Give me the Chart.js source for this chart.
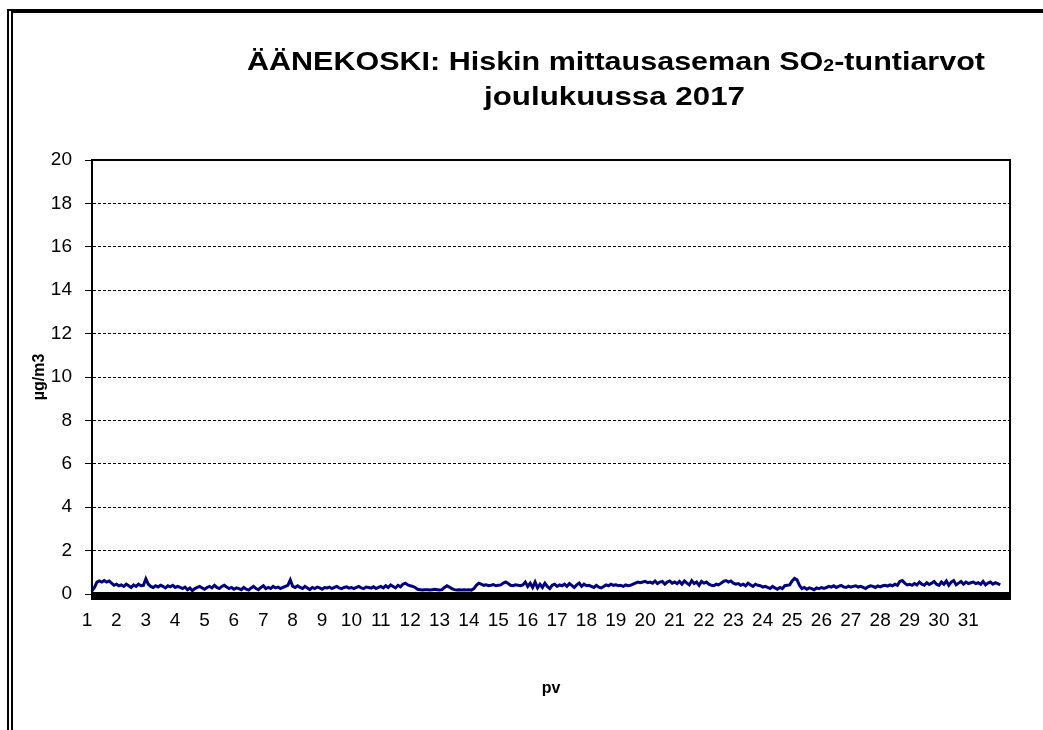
<!DOCTYPE html>
<html>
<head>
<meta charset="utf-8">
<script src="https://cdn.jsdelivr.net/npm/chart.js@4/dist/chart.umd.min.js"></script>
<style>
  html, body { margin: 0; padding: 0; background: #fff; width: 1043px; height: 730px; overflow: hidden; }
  #frame { position: absolute; left: 7px; top: 9px; width: 1100px; height: 800px;
           border-left: 6px double #000; border-top: 4px solid #000; box-sizing: border-box; }
  #wrap { position: absolute; left: 0; top: 0; width: 1043px; height: 730px; }
</style>
</head>
<body>
<div id="frame"></div>
<div id="wrap"><canvas id="c" width="1043" height="730"></canvas></div>
<script>
// Title texts
const titleLine1a = "ÄÄNEKOSKI: Hiskin mittausaseman SO";
const titleSub = "2";
const titleLine1b = "-tuntiarvot";
const titleLine2 = "joulukuussa 2017";
const yTitle = "µg/m3";
const xTitle = "pv";

// Day labels (1..31) and y ticks
const dayLabels = ["1","2","3","4","5","6","7","8","9","10","11","12","13","14","15","16","17","18","19","20","21","22","23","24","25","26","27","28","29","30","31"];
const yTicks = [0,2,4,6,8,10,12,14,16,18,20];

// SO2 values (µg/m3), read every 2 hours, 12 per day
const so2 = [
  0.15,0.30,0.55,0.60,0.55,0.62,0.55,0.60,0.50,0.40,0.45,0.38, // 1
  0.42,0.35,0.45,0.38,0.30,0.42,0.35,0.45,0.38,0.40,0.70,0.45, // 2
  0.35,0.30,0.38,0.32,0.40,0.35,0.28,0.38,0.33,0.40,0.30,0.35, // 3
  0.30,0.25,0.32,0.20,0.28,0.15,0.25,0.30,0.35,0.28,0.22,0.30, // 4
  0.35,0.28,0.40,0.30,0.25,0.35,0.40,0.32,0.25,0.30,0.22,0.28, // 5
  0.25,0.20,0.30,0.22,0.18,0.28,0.35,0.25,0.20,0.30,0.38,0.25, // 6
  0.30,0.25,0.35,0.28,0.32,0.25,0.30,0.35,0.40,0.65,0.35,0.30, // 7
  0.38,0.30,0.25,0.35,0.28,0.20,0.30,0.25,0.32,0.28,0.22,0.30, // 8
  0.28,0.32,0.25,0.30,0.35,0.28,0.25,0.30,0.33,0.27,0.30,0.25, // 9
  0.30,0.35,0.28,0.25,0.32,0.30,0.27,0.33,0.25,0.30,0.35,0.28, // 10
  0.38,0.30,0.42,0.35,0.28,0.40,0.33,0.45,0.50,0.42,0.38,0.35, // 11
  0.30,0.22,0.20,0.18,0.20,0.20,0.18,0.20,0.22,0.20,0.18,0.20, // 12
  0.30,0.38,0.32,0.25,0.20,0.18,0.20,0.18,0.20,0.18,0.20,0.18, // 13
  0.25,0.40,0.50,0.45,0.40,0.42,0.38,0.40,0.43,0.38,0.40,0.42, // 14
  0.50,0.55,0.48,0.40,0.38,0.42,0.40,0.38,0.42,0.55,0.35,0.50, // 15
  0.30,0.55,0.28,0.45,0.30,0.50,0.35,0.25,0.40,0.45,0.35,0.42, // 16
  0.38,0.45,0.35,0.48,0.40,0.30,0.42,0.50,0.35,0.45,0.38,0.40, // 17
  0.35,0.30,0.40,0.32,0.28,0.35,0.42,0.38,0.45,0.40,0.42,0.38, // 18
  0.40,0.35,0.42,0.38,0.40,0.45,0.50,0.55,0.52,0.55,0.58,0.52, // 19
  0.55,0.50,0.60,0.48,0.55,0.58,0.45,0.55,0.60,0.50,0.55,0.48, // 20
  0.58,0.45,0.60,0.50,0.42,0.62,0.48,0.55,0.40,0.58,0.50,0.55, // 21
  0.45,0.40,0.38,0.45,0.42,0.50,0.58,0.62,0.55,0.60,0.50,0.45, // 22
  0.48,0.40,0.45,0.38,0.50,0.42,0.35,0.45,0.40,0.38,0.32,0.35, // 23
  0.30,0.25,0.35,0.28,0.22,0.30,0.25,0.38,0.40,0.42,0.60,0.72, // 24
  0.65,0.40,0.25,0.30,0.22,0.28,0.25,0.20,0.28,0.25,0.30,0.26, // 25
  0.30,0.35,0.32,0.38,0.30,0.35,0.40,0.33,0.30,0.36,0.32,0.35, // 26
  0.38,0.32,0.35,0.30,0.25,0.33,0.38,0.35,0.30,0.37,0.33,0.38, // 27
  0.40,0.36,0.42,0.38,0.45,0.40,0.58,0.62,0.50,0.42,0.45,0.40, // 28
  0.48,0.42,0.55,0.45,0.40,0.52,0.44,0.50,0.58,0.45,0.40,0.55, // 29
  0.45,0.60,0.40,0.55,0.62,0.42,0.50,0.58,0.45,0.55,0.48,0.52, // 30
  0.55,0.48,0.52,0.45,0.58,0.42,0.50,0.55,0.45,0.52,0.48,0.42  // 31
];
const hoursPerReading = 2;
const points = so2.map((v, i) => ({ x: i * hoursPerReading, y: v }));

function drawStretched(ctx, parts, left, right, baseline) {
  // parts: [{text, font, dy}]
  let total = 0;
  parts.forEach(p => { ctx.font = p.font; p.w = ctx.measureText(p.text).width; total += p.w; });
  const sx = (right - left) / total;
  ctx.save();
  ctx.translate(left, baseline);
  ctx.scale(sx, 1);
  let x = 0;
  parts.forEach(p => { ctx.font = p.font; ctx.fillText(p.text, x, p.dy || 0); x += p.w; });
  ctx.restore();
}

const framePlugin = {
  id: 'frameAndTitle',
  afterDraw(chart) {
    const { ctx, chartArea: a } = chart;
    ctx.save();
    ctx.strokeStyle = '#000';
    ctx.lineWidth = 2;
    ctx.beginPath();
    ctx.moveTo(a.left, a.top);
    ctx.lineTo(a.right, a.top);
    ctx.lineTo(a.right, a.bottom);
    ctx.stroke();
    ctx.fillStyle = '#000';
    ctx.fillRect(a.left - 1, a.bottom - 2, a.right - a.left + 2, 8);
    // title
    const big = 'bold 25px "Liberation Sans", Arial, sans-serif';
    const small = 'bold 16px "Liberation Sans", Arial, sans-serif';
    ctx.textBaseline = 'alphabetic';
    ctx.textAlign = 'left';
    ctx.fillStyle = '#000';
    drawStretched(ctx, [
      { text: titleLine1a, font: big },
      { text: titleSub, font: small, dy: 1 },
      { text: titleLine1b, font: big }
    ], 247, 985, 70);
    drawStretched(ctx, [{ text: titleLine2, font: big }], 484, 745, 105);
    ctx.restore();
  }
};

new Chart(document.getElementById('c'), {
  type: 'line',
  data: {
    datasets: [{
      data: points,
      borderColor: '#000080',
      borderWidth: 3,
      pointRadius: 0,
      tension: 0,
      fill: false
    }]
  },
  options: {
    responsive: false,
    animation: false,
    events: [],
    layout: { padding: { left: 0, right: 33, top: 160, bottom: 0 } },
    plugins: { legend: { display: false }, tooltip: { enabled: false }, title: { display: false } },
    scales: {
      x: {
        type: 'linear',
        min: 0,
        max: 750,
        afterFit(s) { s.height = 136; },
        grid: { display: false, drawTicks: false },
        border: { display: false },
        ticks: {
          stepSize: 24,
          autoSkip: false,
          maxRotation: 0,
          labelOffset: -5,
          padding: 15,
          color: '#000',
          font: { family: '"Liberation Sans", Arial, sans-serif', size: 19 },
          callback(v) {
            const d = v / 24;
            return Number.isInteger(d) && d < dayLabels.length ? dayLabels[d] : '';
          }
        },
        title: {
          display: true, text: xTitle, color: '#000',
          font: { family: '"Liberation Sans", Arial, sans-serif', size: 16, weight: 'bold' },
          padding: { top: 0, bottom: 32 }
        }
      },
      y: {
        min: yTicks[0],
        max: yTicks[yTicks.length - 1],
        afterFit(s) { s.width = 92; },
        afterBuildTicks(s) { s.ticks = yTicks.map(v => ({ value: v })); },
        grid: {
          color: '#000', lineWidth: 1,
          tickLength: 7, tickColor: '#000', tickWidth: 1, tickBorderDash: []
        },
        border: { display: true, color: '#000', width: 2, dash: [3, 2] },
        ticks: {
          padding: 13,
          color: '#000',
          font: { family: '"Liberation Sans", Arial, sans-serif', size: 19 }
        },
        title: {
          display: true, text: yTitle, color: '#000',
          font: { family: '"Liberation Sans", Arial, sans-serif', size: 16, weight: 'bold' },
          padding: { top: 30, bottom: 0 }
        }
      }
    }
  },
  plugins: [framePlugin]
});
</script>
</body>
</html>
